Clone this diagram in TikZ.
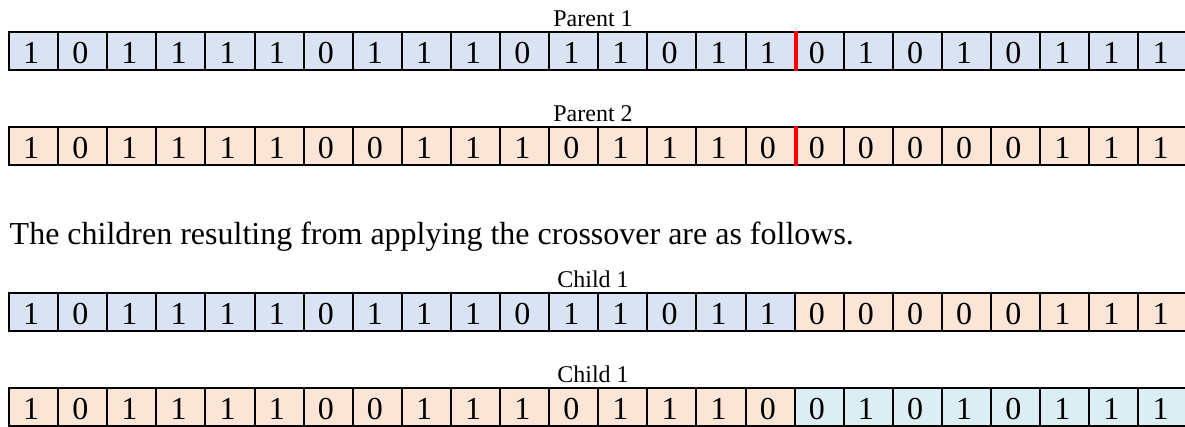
\documentclass[tikz,border=0pt]{standalone}
\usepackage{fontspec}
\setmainfont{Liberation Serif}
\definecolor{pblue}{HTML}{DAE3F3}
\definecolor{porange}{HTML}{FBE5D6}
\definecolor{paqua}{HTML}{DAEEF3}
\tikzset{
  cell/.style={draw=black, line width=2pt, minimum width=49.1pt, minimum height=38pt, inner sep=0pt, anchor=north west},
  digit/.style={inner sep=0pt, anchor=base, font=\fontsize{32}{36}\selectfont},
  lbl/.style={inner sep=0pt, anchor=base, font=\fontsize{24}{28}\selectfont},
  cut/.style={draw=red, line width=4pt}
}
\newcommand\bitrow[5]{%
  \foreach \d [count=\i] in {#5} {
    \ifnum\i>16 \def\f{#4}\else\def\f{#3}\fi
    \node[cell, fill=\f] (#1c\i) at ({8+(\i-1)*49.1}, #2) {};
    \node[digit] (#1d\i) at ([xshift=-2.3pt,yshift=-12pt]#1c\i.center) {\d};
  }}
\begin{document}
\begin{tikzpicture}[x=1pt,y=-1pt]
\useasboundingbox (0,0) rectangle (1185,426);
\node[lbl] (lp1) at (593,26) {Parent 1};
\bitrow{p}{31}{pblue}{pblue}{1,0,1,1,1,1,0,1,1,1,0,1,1,0,1,1,0,1,0,1,0,1,1,1}
\node[lbl] (lp2) at (593,121) {Parent 2};
\bitrow{q}{126}{porange}{porange}{1,0,1,1,1,1,0,0,1,1,1,0,1,1,1,0,0,0,0,0,0,1,1,1}
\node[inner sep=0pt, anchor=base west, font=\fontsize{32}{36}\selectfont] (txt) at (9.5,244) {The children resulting from applying the crossover are as follows.};
\node[lbl] (lc1) at (593,287) {Child 1};
\bitrow{r}{292}{pblue}{porange}{1,0,1,1,1,1,0,1,1,1,0,1,1,0,1,1,0,0,0,0,0,1,1,1}
\node[lbl] (lc2) at (593,382) {Child 1};
\bitrow{s}{387}{porange}{paqua}{1,0,1,1,1,1,0,0,1,1,1,0,1,1,1,0,0,1,0,1,0,1,1,1}
\draw[cut] (pc16.north east) -- (pc16.south east);
\draw[cut] (qc16.north east) -- (qc16.south east);
\end{tikzpicture}
\end{document}
